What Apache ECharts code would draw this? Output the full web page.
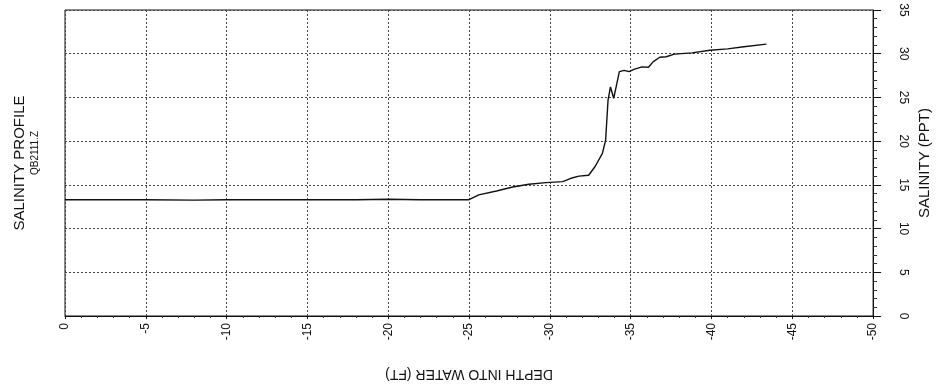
<!DOCTYPE html>
<html><head><meta charset="utf-8">
<script src="https://cdn.jsdelivr.net/npm/echarts@6/dist/echarts.min.js"></script>
<style>html,body{margin:0;padding:0;background:#fff}#c{width:940px;height:391px}</style>
</head><body><div id="c"></div>
<script>
const depth = [0, -2, -5, -8, -10, -12, -15, -18, -20, -22, -24, -25, -25.6, -26.7, -27.7, -28.7, -29.75, -30.8, -31.3, -31.8, -32.4, -32.8, -33.25, -33.45, -33.6, -33.75, -33.95, -34.3, -34.6, -34.9, -35.2, -35.7, -36.1, -36.4, -36.8, -37.2, -37.7, -38.8, -39.9, -41, -42, -43.4];
const salinity = [13.3, 13.3, 13.3, 13.25, 13.3, 13.3, 13.3, 13.3, 13.35, 13.3, 13.3, 13.3, 13.85, 14.3, 14.75, 15.07, 15.25, 15.37, 15.75, 16.0, 16.1, 17.1, 18.6, 20.1, 24.7, 26.2, 24.9, 27.95, 28.1, 27.95, 28.2, 28.5, 28.45, 29.1, 29.6, 29.65, 29.95, 30.1, 30.4, 30.55, 30.8, 31.1];
const xTitle = 'DEPTH INTO WATER (FT)';
const yTitle = 'SALINITY (PPT)';
const mainTitle = 'SALINITY PROFILE';
const subTitle = 'QB2111.Z';

const font = 'Liberation Sans, Arial, sans-serif';
const chart = echarts.init(document.getElementById('c'));
chart.setOption({
  backgroundColor: '#fff',
  animation: false,
  grid: {left: 65, right: 60, top: 10, bottom: 75, show: true, borderColor: '#111', borderWidth: 1},
  graphic: [
    {type: 'text', rotation: Math.PI / 2,
     style: {text: mainTitle, font: '15px ' + font, fill: '#111', textAlign: 'center', textVerticalAlign: 'middle'},
     x: 20, y: 163},
    {type: 'text', rotation: Math.PI / 2,
     style: {text: subTitle, font: '10px ' + font, fill: '#111', textAlign: 'center', textVerticalAlign: 'middle'},
     x: 35, y: 153}
  ],
  xAxis: {
    type: 'value', min: -50, max: 0, interval: 5, inverse: true,
    name: xTitle, nameLocation: 'middle', nameGap: 51, nameRotate: 180,
    nameTextStyle: {fontFamily: font, fontSize: 14, color: '#111'},
    axisLine: {show: true, onZero: false, lineStyle: {color: '#111', width: 1}},
    axisTick: {show: true, length: 3, lineStyle: {color: '#111'}},
    minorTick: {show: true, splitNumber: 5, length: 2, lineStyle: {color: '#333'}},
    axisLabel: {rotate: 90, fontFamily: font, fontSize: 12, color: '#111', margin: 7},
    splitLine: {show: true, lineStyle: {color: '#444', type: [2, 2], width: 1}}
  },
  yAxis: {
    type: 'value', min: 0, max: 35, interval: 5, position: 'right',
    name: yTitle, nameLocation: 'middle', nameGap: 43, nameRotate: 90,
    nameTextStyle: {fontFamily: font, fontSize: 15, color: '#111'},
    axisLine: {show: true, onZero: false, lineStyle: {color: '#111', width: 1}},
    axisTick: {show: true, length: 8, lineStyle: {color: '#111'}},
    minorTick: {show: true, splitNumber: 5, length: 4, lineStyle: {color: '#333'}},
    axisLabel: {rotate: -90, fontFamily: font, fontSize: 12, color: '#111', margin: 24},
    splitLine: {show: true, lineStyle: {color: '#444', type: [2, 2], width: 1}}
  },
  series: [{
    type: 'line', data: depth.map((d, i) => [d, salinity[i]]),
    showSymbol: false, lineStyle: {color: '#111', width: 1.4}
  }]
});
</script></body></html>
